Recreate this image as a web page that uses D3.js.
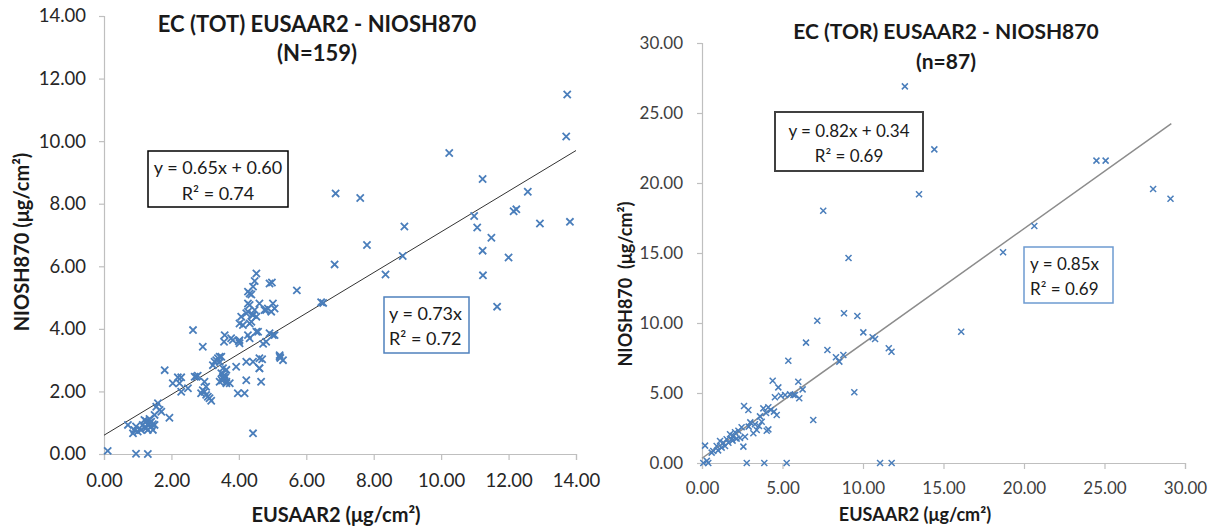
<!DOCTYPE html>
<html>
<head>
<meta charset="utf-8">
<script src="https://cdn.jsdelivr.net/npm/d3@7"></script>
<style>
  html, body { margin: 0; padding: 0; background: #fff; }
  svg { display: block; }
  text { font-family: Lato, "Open Sans", sans-serif; }
</style>
</head>
<body>
<svg id="chart" width="1217" height="531"></svg>
<script>
// ---------- DATA ----------
// Left panel: EC (TOT), N=159
const leftTitle = ["EC (TOT) EUSAAR2 - NIOSH870", "(N=159)"];
const leftTicks = [0, 2, 4, 6, 8, 10, 12, 14];
const leftX = [
  13.74, 13.71, 10.24, 11.23, 6.87, 7.60, 12.57, 10.98, 11.07, 12.15, 12.23, 12.93, 13.82,
  11.49, 11.23, 12.00, 7.80, 8.91, 8.86, 6.84, 8.35, 11.24, 11.66, 5.72, 6.44, 6.50,
  4.52, 4.47, 4.42, 4.27, 4.37, 4.91, 4.98, 5.01, 4.86, 5.06, 4.76, 4.32, 4.07, 4.27, 4.42,
  4.52, 4.12, 4.32, 4.57, 4.27, 4.02, 4.00, 3.77, 3.58, 3.56, 5.01, 5.06, 4.81, 4.72, 5.21,
  5.23, 5.31, 4.69, 4.42, 4.61, 4.22, 4.66, 3.92, 4.17, 3.97, 4.42, 3.38, 3.48, 3.43, 3.28,
  3.23, 3.53, 3.48, 3.58, 3.53, 3.63, 3.43, 3.73, 3.63, 2.93, 2.64, 2.98, 3.03, 2.93, 2.88,
  3.03, 3.13, 3.18, 2.69, 2.78, 2.49, 2.24, 2.29, 2.19, 2.04, 1.80, 2.29, 1.94, 1.65, 1.70,
  1.55, 1.60, 1.50, 1.40, 1.30, 1.20, 1.35, 1.15, 1.25, 1.10, 1.00, 0.90, 0.86, 0.95, 0.71,
  1.40, 1.50, 1.30, 1.45, 0.11, 0.95, 1.30,
  5.21, 2.74, 2.98, 3.08, 3.53, 3.63, 4.22, 4.61, 4.61, 3.33, 3.43, 3.82, 4.02, 4.32, 4.52,
  4.91, 4.22, 4.37, 4.47, 4.02, 4.81, 4.96, 4.32, 4.61, 4.27, 1.35, 1.25, 1.45, 1.20, 3.55,
  3.60, 3.50, 4.40
];
const leftY = [
  11.49, 10.15, 9.62, 8.79, 8.33, 8.18, 8.38, 7.61, 7.24, 7.76, 7.82, 7.37, 7.42,
  6.91, 6.50, 6.28, 6.68, 7.27, 6.33, 6.06, 5.74, 5.71, 4.71, 5.23, 4.85, 4.83,
  5.77, 5.53, 5.35, 5.19, 5.10, 5.45, 5.48, 4.81, 4.65, 4.65, 4.60, 4.76, 4.39, 4.55, 4.44,
  4.39, 4.12, 4.17, 3.91, 3.80, 3.54, 3.60, 3.70, 3.80, 3.59, 3.80, 3.80, 3.59, 3.52, 3.16,
  3.07, 3.00, 3.03, 2.95, 2.74, 2.36, 2.31, 2.79, 1.94, 1.94, 0.66, 3.06, 3.11, 2.95, 2.95,
  2.84, 2.74, 2.58, 2.52, 2.42, 2.31, 2.31, 2.26, 2.69, 3.43, 3.96, 2.31, 2.15, 2.04, 1.94,
  1.89, 1.78, 1.70, 2.47, 2.50, 2.10, 2.26, 2.45, 2.45, 2.26, 2.68, 1.99, 1.16, 1.41, 1.35,
  1.51, 1.62, 1.25, 1.03, 0.93, 1.09, 1.12, 0.93, 0.83, 0.77, 0.72, 0.77, 0.66, 0.88, 0.93,
  0.88, 0.93, 0.77, 0.77, 0.10, 0.01, 0.00,
  3.11, 2.47, 1.99, 1.83, 2.47, 2.26, 2.95, 3.06, 2.74, 3.00, 3.11, 3.64, 3.64, 3.70, 3.91,
  3.86, 4.50, 4.23, 4.60, 4.17, 4.60, 4.55, 5.13, 4.81, 4.81, 1.00, 1.05, 0.95, 0.85, 2.40,
  2.45, 2.35, 4.45
];
const leftFit = { slope: 0.65, intercept: 0.60, xEnd: 14 };
const leftEqBlack = ["y = 0.65x + 0.60", "R² = 0.74"];
const leftEqBlue = ["y = 0.73x", "R² = 0.72"];

// Right panel: EC (TOR), n=87
const rightTitle = ["EC (TOR) EUSAAR2 - NIOSH870", "(n=87)"];
const rightTicks = [0, 5, 10, 15, 20, 25, 30];
const rightX = [
  12.6, 14.43, 13.48, 7.53, 9.1, 24.5, 25.07, 28.02, 29.1, 20.64, 18.7, 16.1,
  7.16, 8.82, 9.65, 10.02, 10.6, 10.75, 11.6, 11.77, 6.46, 7.79, 8.32, 8.53, 8.78, 5.36,
  9.46, 6.91, 4.39, 4.74, 4.53, 5.16, 5.47, 5.68, 5.98, 6.25, 6.04, 5.78, 2.61, 2.88,
  3.81, 4.12, 3.98, 4.27, 4.64, 4.47, 4.12, 4.02, 3.6, 3.71, 3.54, 3.29, 3.4, 3.19,
  2.67, 2.57, 2.46, 2.26, 2.05, 1.95, 1.74, 1.53, 1.33, 1.22, 1.12, 1.43, 1.64, 0.91,
  0.7, 0.6, 0.19, 1.84, 2.15, 2.36, 0.08, 0.39, 2.78, 3.87, 5.26, 11.06, 11.78,
  3.0, 2.9, 1.9, 4.9, 0.3, 1.0
];
const rightY = [
  26.9, 22.4, 19.2, 18.02, 14.64, 21.6, 21.6, 19.57, 18.88, 16.93, 15.05, 9.38,
  10.16, 10.69, 10.5, 9.33, 8.98, 8.86, 8.19, 7.95, 8.6, 8.07, 7.55, 7.24, 7.71, 7.31,
  5.05, 3.07, 5.88, 5.4, 4.69, 4.86, 4.9, 4.86, 5.81, 5.26, 4.62, 4.86, 4.07, 3.79,
  3.9, 3.98, 3.57, 3.79, 3.43, 3.67, 2.4, 2.31, 3.33, 2.95, 2.64, 2.77, 2.36, 2.12,
  1.88, 1.17, 2.55, 2.31, 2.2, 1.95, 2.05, 1.69, 1.45, 1.1, 1.57, 1.21, 1.45, 1.21,
  0.86, 0.74, 1.24, 1.69, 1.74, 1.79, 0, 0, 0, 0, 0, 0, 0,
  2.9, 2.6, 1.6, 4.8, 0.15, 0.9
];
const rightFit = { slope: 0.82, intercept: 0.34, xEnd: 29.15 };
const rightEqBlack = ["y = 0.82x + 0.34", "R² = 0.69"];
const rightEqBlue = ["y = 0.85x", "R² = 0.69"];

const axisTitleX = "EUSAAR2 (μg/cm²)";
const leftAxisTitleY = "NIOSH870 (μg/cm²)";
const rightAxisTitleY = "NIOSH870  (μg/cm²)";

// ---------- DRAW ----------
const svg = d3.select("#chart");
svg.append("rect").attr("width", 1217).attr("height", 531).attr("fill", "#fff");

const BLUE = "#4A7EBB";
const fmt = d3.format(".2f");

function panel(cfg) {
  const g = svg.append("g");
  const x = d3.scaleLinear().domain(cfg.domain).range(cfg.xRange);
  const y = d3.scaleLinear().domain(cfg.domain).range(cfg.yRange);

  const xAxis = g.append("g")
    .attr("transform", `translate(0,${cfg.yRange[0]})`)
    .call(d3.axisBottom(x).tickValues(cfg.ticks).tickFormat(fmt).tickSizeOuter(0).tickSize(6).tickPadding(cfg.tickPadX));
  const yAxis = g.append("g")
    .attr("transform", `translate(${cfg.xRange[0]},0)`)
    .call(d3.axisLeft(y).tickValues(cfg.ticks).tickFormat(fmt).tickSizeOuter(0).tickSize(5).tickPadding(cfg.tickPadY));
  [xAxis, yAxis].forEach(a => {
    a.select(".domain").attr("stroke", "#BFBFBF").attr("stroke-width", 1.2);
    a.selectAll(".tick line").attr("stroke", "#BFBFBF").attr("stroke-width", 1.2);
    a.selectAll(".tick text")
      .attr("fill", cfg.tickColor)
      .style("font-family", "Lato, sans-serif")
      .style("font-size", cfg.tickFont + "px");
  });

  // trendline
  g.append("line")
    .attr("x1", x(0)).attr("y1", y(cfg.fit.intercept))
    .attr("x2", x(cfg.fit.xEnd)).attr("y2", y(cfg.fit.intercept + cfg.fit.slope * cfg.fit.xEnd))
    .attr("stroke", cfg.lineColor).attr("stroke-width", cfg.lineWidth);

  // markers
  const s = cfg.markerHalf;
  g.append("g").selectAll("path")
    .data(cfg.xs.map((v, i) => [v, cfg.ys[i]]))
    .join("path")
    .attr("transform", d => `translate(${x(d[0])},${y(d[1])})`)
    .attr("d", `M${-s},${-s}L${s},${s}M${-s},${s}L${s},${-s}`)
    .attr("stroke", BLUE)
    .attr("stroke-width", cfg.markerWidth)
    .attr("fill", "none");

  // titles
  cfg.title.forEach((t, i) => {
    g.append("text")
      .attr("x", cfg.titleX).attr("y", cfg.titleY[i])
      .attr("text-anchor", "middle")
      .attr("font-weight", "bold")
      .attr("font-size", cfg.titleFont)
      .attr("fill", "#1a1a1a")
      .text(t);
  });

  // axis titles
  g.append("text")
    .attr("x", cfg.xTitlePos[0]).attr("y", cfg.xTitlePos[1])
    .attr("text-anchor", "middle").attr("font-weight", "bold")
    .attr("font-size", cfg.axisTitleFont).attr("fill", "#1a1a1a")
    .text(axisTitleX);
  g.append("text")
    .attr("transform", `translate(${cfg.yTitlePos[0]},${cfg.yTitlePos[1]}) rotate(-90)`)
    .attr("text-anchor", "middle").attr("font-weight", "bold")
    .attr("font-size", cfg.axisTitleFont).attr("fill", "#1a1a1a")
    .style("white-space", "pre")
    .text(cfg.yTitle);

  // equation boxes
  cfg.boxes.forEach(b => {
    g.append("rect")
      .attr("x", b.rect[0]).attr("y", b.rect[1])
      .attr("width", b.rect[2]).attr("height", b.rect[3])
      .attr("fill", "#fff").attr("stroke", b.stroke).attr("stroke-width", b.sw);
    b.lines.forEach((t, i) => {
      g.append("text")
        .attr("x", b.tx).attr("y", b.ty[i])
        .attr("text-anchor", b.anchor)
        .attr("font-size", b.font).attr("fill", "#1a1a1a")
        .text(t);
    });
  });
}

panel({
  domain: [0, 14], xRange: [104, 576], yRange: [454, 16], ticks: leftTicks,
  tickPadX: 14, tickPadY: 13, tickFont: 18.5, tickColor: "#262626",
  xs: leftX, ys: leftY, fit: leftFit, lineColor: "#333", lineWidth: 1,
  markerHalf: 3.6, markerWidth: 1.8,
  title: leftTitle, titleX: 317, titleY: [32, 61], titleFont: 22,
  xTitlePos: [336, 522], yTitlePos: [29, 242], yTitle: leftAxisTitleY, axisTitleFont: 20,
  boxes: [
    { rect: [148, 151, 140, 56], stroke: "#000", sw: 1.5, lines: leftEqBlack, tx: 218, ty: [174, 200], anchor: "middle", font: 18 },
    { rect: [384, 297, 85, 56], stroke: "#4F81BD", sw: 1.5, lines: leftEqBlue, tx: 389, ty: [320, 345], anchor: "start", font: 18 }
  ]
});

panel({
  domain: [0, 30], xRange: [702, 1185], yRange: [463, 43], ticks: rightTicks,
  tickPadX: 13, tickPadY: 14, tickFont: 17, tickColor: "#404040",
  xs: rightX, ys: rightY, fit: rightFit, lineColor: "#8C8C8C", lineWidth: 1.5,
  markerHalf: 3, markerWidth: 1.5,
  title: rightTitle, titleX: 946, titleY: [39, 69], titleFont: 21,
  xTitlePos: [915, 521], yTitlePos: [632, 284], yTitle: rightAxisTitleY, axisTitleFont: 18,
  boxes: [
    { rect: [775, 112, 148, 59], stroke: "#404040", sw: 2, lines: rightEqBlack, tx: 849, ty: [137, 162], anchor: "middle", font: 17 },
    { rect: [1024, 247, 89, 56], stroke: "#6D9BD1", sw: 1.5, lines: rightEqBlue, tx: 1030, ty: [270, 295], anchor: "start", font: 17 }
  ]
});
</script>
</body>
</html>
